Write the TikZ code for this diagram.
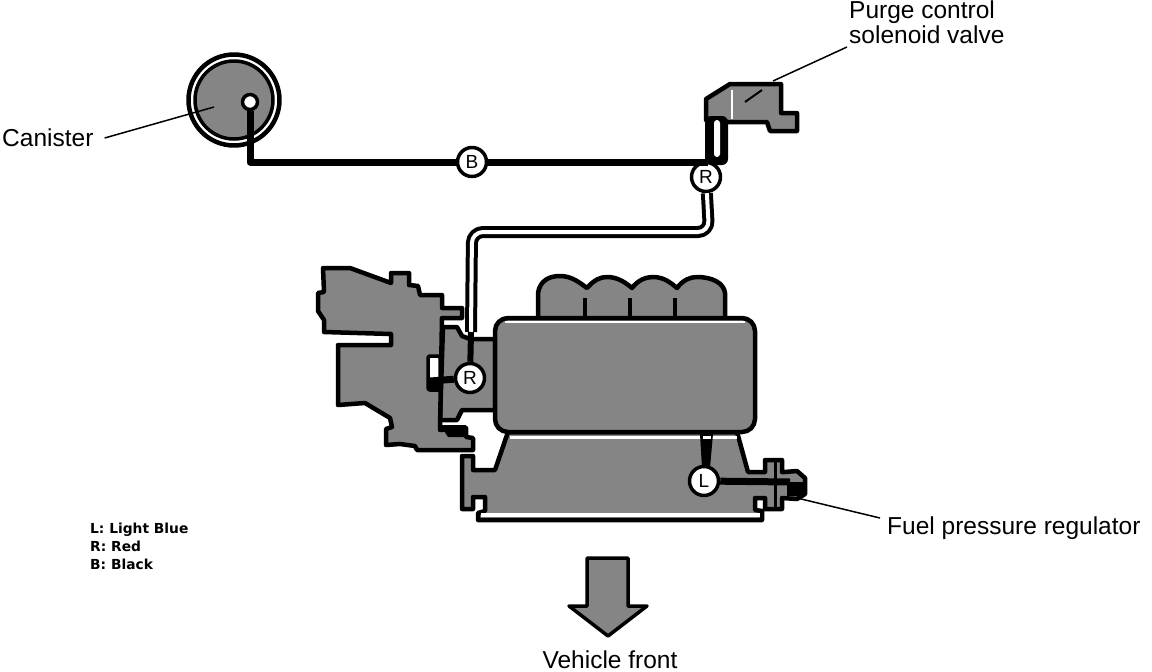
\documentclass[tikz,border=0pt]{standalone}
\usepackage{fontspec}
\setmainfont{Liberation Sans}
\newfontfamily\legendfont{DejaVu Sans}
\usetikzlibrary{arrows.meta,positioning,calc}
\definecolor{halftone}{gray}{0.52}
\begin{document}
\begin{tikzpicture}[x=1pt, y=-1pt, line join=round,
    part/.style={draw=black, line width=4.5pt, fill=halftone},
    marker/.style={draw=black, circle, line width=3.5pt, fill=white, inner sep=0pt, minimum size=29pt, font=\fontsize{19}{19}\selectfont},
    callout/.style={font=\fontsize{24.5}{27}\selectfont, inner sep=0pt, align=left},
    leader/.style={draw=black, line width=1.5pt},
    blackpipe/.style={draw=black, line width=7pt},
    whitepipe/.style={draw=black, line width=4pt, double=white, double distance=4pt, rounded corners=11pt}]
  \useasboundingbox (0,0) rectangle (1152,672);

  % canister
  \node[draw, circle, line width=4.5pt, fill=white, minimum size=91pt, inner sep=0pt] (canister) at (234,100) {};
  \node[draw, circle, line width=3.5pt, fill=halftone, minimum size=78pt, inner sep=0pt] (canistercore) at (234,100) {};
  \node[draw, circle, line width=3.5pt, fill=white, minimum size=15pt, inner sep=0pt] (canisterport) at (250,102) {};
  \coordinate (canisterelbow) at (250,162);
  \coordinate (canistertip) at (214,107);

  % solenoid valve
  \draw[part] (706,99) -- (730,84) -- (781,84) -- (781,113) -- (797,113) -- (797,131) -- (770,131) -- (767,122)
    -- (728,122) -- (706,120) -- cycle;
  \draw[white, line width=1.5pt] (732,90) -- (732,119);
  \draw[black, line width=2pt] (745,102) -- (762,90);
  \coordinate (valvetip) at (773,81);
  \fill[black, rounded corners=6pt] (705,116) -- (705,165) -- (728,165) -- (728,116) -- cycle;
  \fill[white, rounded corners=3pt] (714,120) rectangle (720,157);

  % throttle body and intake
  \draw[part] (443,327) -- (457,327) -- (462,336) -- (470,339) -- (495,339) -- (495,410) -- (462,410) -- (457,420)
    -- (440,420) -- cycle;
  \draw[part] (323,268) -- (350,268) -- (391,283) -- (391,273) -- (409,273) -- (409,285) -- (418,286) -- (420,295)
    -- (442,295) -- (442,308) -- (462,308) -- (462,318) -- (442,318) -- (440,430) -- (466,428) -- (466,437) -- (473,438)
    -- (473,450) -- (417,450) -- (415,446) -- (400,444) -- (386,445) -- (386,429) -- (392,427) -- (390,418) -- (365,403)
    -- (338,405) -- (338,345) -- (391,345) -- (391,334) -- (324,332) -- (324,320) -- (318,311) -- (318,293) -- (324,292)
    -- cycle;
  \fill[black] (440,425) -- (466,425) -- (466,437) -- (448,437) -- cycle;
  \draw[black, line width=3.5pt, fill=white, rounded corners=2pt] (428,356) rectangle (440,390);
  \fill[black] (428,378) rectangle (440,390);

  % manifold, lower body and block
  \draw[part] (508,432) -- (495,470) -- (473,470) -- (473,456) -- (462,456) -- (462,509) -- (473,509) -- (473,497)
    -- (485,497) -- (485,511) -- (478,513) -- (478,520) -- (762,520) -- (762,511) -- (755,510) -- (755,498) -- (765,498)
    -- (765,509) -- (782,509) -- (782,498) -- (797,499) -- (805,494) -- (805,478) -- (797,471) -- (785,472) -- (782,472)
    -- (782,460) -- (765,460) -- (765,472) -- (748,472) -- (737,432) -- cycle;
  \fill[white] (481,513) rectangle (760,517);
  \fill[white] (510,436) rectangle (737,439);
  \draw[black, line width=3pt] (775,461) -- (775,509);
  \fill[black] (787,482) rectangle (805,496);
  \draw[part] (538,318) -- (538,293) .. controls (540,280) and (550,276) .. (560,276)
    .. controls (572,276) and (580,283) .. (587,288) .. controls (594,280) and (600,277) .. (607,277)
    .. controls (618,277) and (626,283) .. (632,288) .. controls (638,280) and (646,277) .. (653,277)
    .. controls (664,277) and (671,283) .. (677,288) .. controls (683,280) and (690,277) .. (697,277)
    .. controls (712,277) and (724,283) .. (725,293) -- (725,318);
  \foreach \xsep in {585,630,675}
    \draw[black, line width=4pt] (\xsep,298) -- (\xsep,316);
  \draw[part, rounded corners=13pt] (495,318) rectangle (755,432);
  \fill[white] (505,321) rectangle (745,323);
  \fill[black] (700,434) -- (713,434) -- (710,468) -- (702,468) -- cycle;
  \fill[white] (703,436) rectangle (711,439);
  \coordinate (regulatorport) at (790,482);
  \coordinate (regulatortip) at (797,498);

  % vehicle front arrow
  \draw[part, line width=3.5pt] (587,558) -- (628,558) -- (628,606) -- (647,606) -- (608,636) -- (569,606) -- (587,606) -- cycle;

  % hose markers
  \node[marker] (black) at (472,162) {B};
  \node[marker] (redvalve) at (706,177) {R};
  \node[marker] (redthrottle) at (470,378) {R};
  \node[marker] (blue) at (704,481) {L};

  % hoses
  \coordinate (hosejoint) at (708,162);
  \coordinate (hoseupper) at (709,232);
  \coordinate (hoselower) at (472,232);
  \coordinate (hoseend) at (471,332);
  \coordinate (slotport) at (430,381);
  \draw[blackpipe] (canisterport) -- (canisterelbow) -- (black);
  \draw[blackpipe] (black) -- (hosejoint);
  \draw[whitepipe] (redvalve) -- (hoseupper) -- (hoselower) -- (hoseend);
  \draw[blackpipe, line width=6pt] (hoseend) -- (redthrottle);
  \draw[blackpipe] (redthrottle) -- (slotport);
  \draw[blackpipe] (blue) -- (regulatorport);

  % labels
  \node[callout, anchor=west] (canisterlabel) at (2,138) {Canister};
  \node[callout, anchor=west] (valvelabel) at (849,22) {Purge control\\[-2.5pt]solenoid valve};
  \node[callout, anchor=west] (regulatorlabel) at (887,528) {Fuel pressure regulator};
  \node[callout, anchor=north] (frontlabel) at (610,651) {Vehicle front};
  \node[inner sep=0pt, align=left, anchor=west, font=\legendfont\bfseries\fontsize{13.8}{18}\selectfont] (legend) at (90,546) {L: Light Blue\\R: Red\\B: Black};
  \draw[leader] (canisterlabel.east) ++(11,0) -- (canistertip);
  \draw[leader] (valvetip) -- (847,47);
  \draw[leader] (regulatortip) -- (880,518);
\end{tikzpicture}
\end{document}
